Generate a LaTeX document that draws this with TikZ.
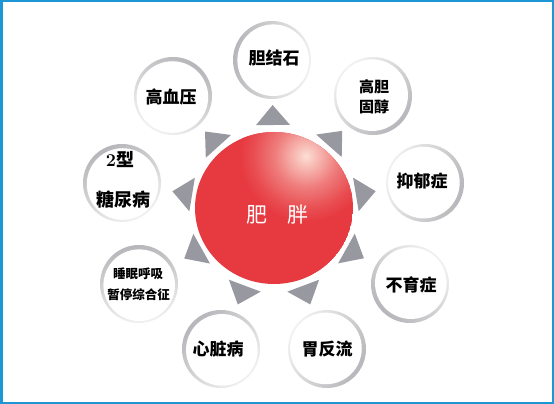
\documentclass[tikz,border=0pt]{standalone}
\usepackage{fontspec}
\newfontfamily\cjk{Noto Sans CJK SC}
\usetikzlibrary{calc}
\definecolor{frameblue}{RGB}{28,150,212}
\definecolor{tri}{RGB}{152,152,160}
\definecolor{mainred}{RGB}{230,58,64}
\definecolor{hilite}{RGB}{252,222,212}
\definecolor{ringdark}{RGB}{182,182,186}
\definecolor{ringlight}{RGB}{242,242,242}
\pgfdeclareradialshading{glow}{\pgfpoint{0bp}{0bp}}{%
  color(0bp)=(hilite); color(4bp)=(hilite!80!mainred); color(12bp)=(hilite!40!mainred);
  color(20bp)=(hilite!12!mainred); color(25bp)=(mainred); color(50bp)=(mainred)}
\tikzset{
  bub/.style={circle, minimum size=78pt, inner sep=0pt,
    path picture={
      \pgfmathsetmacro\sa{#1-90}
      \pgfmathsetmacro\dx{-1.2*cos(#1)}
      \pgfmathsetmacro\dy{-1.2*sin(#1)}
      \shade[top color=ringdark, bottom color=ringlight, shading angle=\sa]
        (path picture bounding box.center) circle[radius=40pt];
      \fill[white] ([xshift=\dx pt, yshift=\dy pt]path picture bounding box.center) circle[radius=35.8pt];
    }},
  lbl/.style={inner sep=0pt, text=black, font=\cjk\bfseries\fontsize{17}{17}\selectfont},
  lblm/.style={inner sep=0pt, text=black, font=\cjk\bfseries\fontsize{15}{15}\selectfont},
  lbls/.style={inner sep=0pt, text=black, font=\cjk\bfseries\fontsize{12.5}{12.5}\selectfont},
  lblb/.style={inner sep=0pt, text=black, font=\cjk\bfseries\fontsize{18}{18}\selectfont},
  ctr/.style={inner sep=0pt, text=white, font=\cjk\fontsize{21}{21}\selectfont},
  tria/.style={fill=tri, draw=none}
}
\newcommand\pointer[2]{%
  \coordinate (#2base) at ($(#1)!83pt!(#2)$);
  \coordinate (#2tip) at ($(#1)!103pt!(#2)$);
  \fill[tria] (#2tip) -- ($(#2base)!17pt!90:(#2tip)$) -- ($(#2base)!17pt!-90:(#2tip)$) -- cycle;
}
\begin{document}
\begin{tikzpicture}[x=1pt,y=-1pt]
\useasboundingbox (0,0) rectangle (554,404);
\fill[white] (0,0) rectangle (554,404);
\draw[frameblue, line width=2.5pt] (1.25,1.25) rectangle (552.75,402.75);

% central circle
\coordinate (C) at (274,208);
\begin{scope}
  \clip (C) ellipse[x radius=79pt, y radius=76pt];
  \fill[mainred] (C) ellipse[x radius=79pt, y radius=76pt];
  \shade[shading=glow] (306,156) circle[radius=66pt];
\end{scope}
\node[ctr] (fei) at (256.5,214.5) {肥};
\node[ctr] (pang) at (297.5,214.5) {胖};

% bubbles
\node[bub=170] (b1) at (272,60) {};
\node[bub=-45] (b2) at (373,96) {};
\node[bub=-20] (b3) at (425,183) {};
\node[bub=-135] (b4) at (410,284) {};
\node[bub=-30] (b5) at (327,349) {};
\node[bub=135] (b6) at (221,349) {};
\node[bub=100] (b7) at (139,284) {};
\node[bub=120] (b8) at (122,183) {};
\node[bub=60] (b9) at (173,96) {};

% labels
\node[lbl] (t1) at (274,58) {胆结石};
\node[lblm] (t2a) at (374,87) {高胆};
\node[lblm] (t2b) at (374,107) {固醇};
\node[lbl] (t3) at (422,181) {抑郁症};
\node[lbl] (t4) at (411,285) {不育症};
\node[lbl] (t5) at (327,349) {胃反流};
\node[lbl] (t6) at (218,349) {心脏病};
\node[lbls] (t7a) at (138,274) {睡眠呼吸};
\node[lbls] (t7b) at (138.5,295) {暂停综合征};
\node[lblb] (t8a) at (120,160) {{\rmfamily\bfseries 2}型};
\node[lblb] (t8b) at (123,200) {糖尿病};
\node[lbl] (t9) at (171,97) {高血压};

% pointers
\pointer{C}{b1}
\pointer{C}{b2}
\pointer{C}{b3}
\pointer{C}{b4}
\pointer{C}{b5}
\pointer{C}{b6}
\pointer{C}{b7}
\pointer{C}{b8}
\pointer{C}{b9}
\end{tikzpicture}
\end{document}
